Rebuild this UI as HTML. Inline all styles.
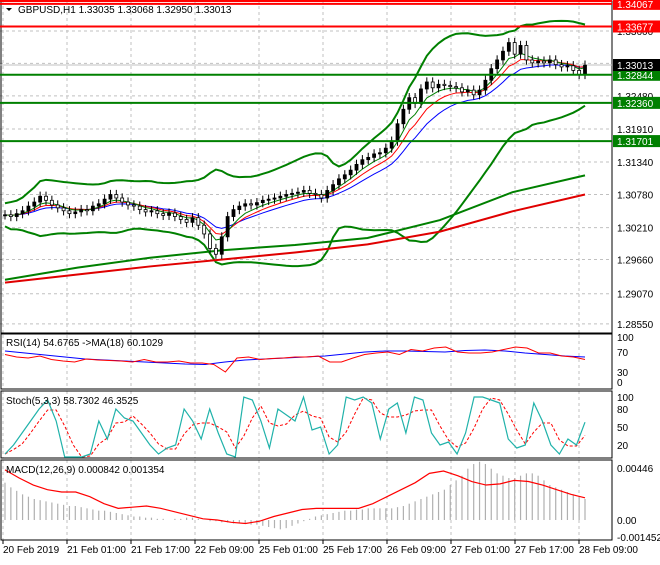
<!DOCTYPE html>
<html><head><meta charset="utf-8"><style>
body{margin:0;background:#fff;font-family:"Liberation Sans",sans-serif;}
svg text{font-family:"Liberation Sans",sans-serif;font-size:10px;fill:#000;}
</style></head><body>
<svg id="c" width="660" height="560" xmlns="http://www.w3.org/2000/svg"></svg>
<script>
const closes=[1.3043,1.3040,1.3045,1.3050,1.3058,1.3065,1.3075,1.3068,1.3060,1.3055,
1.3050,1.3045,1.3048,1.3052,1.3050,1.3058,1.3062,1.3070,1.3078,1.3072,
1.3065,1.3060,1.3058,1.3052,1.3048,1.3050,1.3045,1.3042,1.3046,1.3040,
1.3035,1.3030,1.3038,1.3025,1.3010,1.2985,1.2975,1.3005,1.3040,1.3052,
1.3058,1.3062,1.3060,1.3064,1.3068,1.3070,1.3072,1.3075,1.3078,1.3080,
1.3082,1.3085,1.3080,1.3078,1.3072,1.3085,1.3095,1.3105,1.3112,1.3120,
1.3130,1.3138,1.3142,1.3148,1.3150,1.3158,1.3170,1.3200,1.3225,1.3245,
1.3235,1.3260,1.3272,1.3262,1.3268,1.3266,1.3264,1.3262,1.3255,1.3258,
1.3250,1.3258,1.3275,1.3295,1.3310,1.3325,1.3340,1.3320,1.3335,1.3310,
1.3305,1.3308,1.3305,1.3310,1.3302,1.3298,1.3300,1.3292,1.3285,1.3301];
const maSlowRed=[1.2926,1.2940,1.2954,1.2966,1.2978,1.2992,1.3014,1.3049,1.3078];
const maSlowGreen=[1.2931,1.2952,1.2969,1.2982,1.2991,1.3003,1.3034,1.3082,1.3111];
const priceTicks=[1.33600,1.33040,1.32480,1.31910,1.31340,1.30780,1.30210,1.29660,1.29070,1.28550];
const levels=[1.34067,1.33677,1.32844,1.32360,1.31701];
const levelColors=["#f00","#f00","#008000","#008000","#008000"];
const rsi=[65,60,58,62,55,52,50,56,54,53,52,50,55,50,50,52,48,48,45,30,58,60,55,57,58,60,60,62,50,50,58,65,68,70,65,75,72,78,80,70,68,68,70,75,80,78,68,68,62,60,55];
const rsiMa=[72,68,64,60,56,54,52,50,48,46,45,50,54,56,58,60,62,66,70,72,72,71,70,73,74,72,68,65,62,60];
const stoch=[5,20,40,60,80,95,60,0,0,0,5,60,30,80,65,60,40,20,5,15,20,80,60,30,80,40,5,0,100,95,60,15,80,70,60,100,45,50,5,20,100,95,100,90,30,80,90,40,100,95,40,20,25,5,40,100,100,95,90,30,15,20,90,60,20,5,30,20,58];
const macdHist=[32,28,25,22,20,18,17,16,15,14,13,12,12,11,10,9,8,8,7,6,5,4,3,3,2,2,1,1,0,1,1,2,2,1,0,-1,-1,-2,-2,-3,-3,-3,-4,-4,-5,-6,-7,-8,-7,-5,-3,-1,1,3,4,5,6,7,8,8,9,9,10,10,10,10,10,11,12,14,16,18,20,22,24,26,30,34,38,44,48,50,48,44,40,38,36,36,38,40,40,38,34,30,28,26,24,22,20,18];
const macdSig=[43,36,30,26,24,24,20,14,10,11,12,10,7,4,1,0,-2,-3,-1,3,6,9,10,10,10,10,14,20,26,32,40,42,38,33,30,31,34,33,30,26,22,19];
const timeLabels=["20 Feb 2019","21 Feb 01:00","21 Feb 17:00","22 Feb 09:00","25 Feb 01:00","25 Feb 17:00","26 Feb 09:00","27 Feb 01:00","27 Feb 17:00","28 Feb 09:00"];

const S=document.getElementById('c'),NS="http://www.w3.org/2000/svg";
function el(t,a,p){const e=document.createElementNS(NS,t);for(const k in a)e.setAttribute(k,a[k]);(p||S).appendChild(e);return e;}
const X0=5,X1=585,R=612;
const py=p=>65+(1.33013-p)*5800;
const xi=(i,n)=>X0+i*(X1-X0)/(n-1);
const line=(arr,yf,st,w,dash,name)=>{const e=el('polyline',{points:arr.map((v,i)=>xi(i,arr.length)+','+yf(v)).join(' '),fill:'none',stroke:st,'stroke-width':w||1,'stroke-dasharray':dash||''});
return e;};
const gx=[3,67,131,195,259,323,387,451,515,579];
gx.forEach(x=>{[[0,333],[335,389],[391,458],[460,540]].forEach(r=>el('line',{x1:x,x2:x,y1:r[0],y2:r[1],stroke:'#c0c0c0','stroke-dasharray':'3,3'}));});
priceTicks.forEach(p=>{const y=py(p);el('line',{x1:0,x2:R,y1:y,y2:y,stroke:'#c0c0c0','stroke-dasharray':'3,3'});
const t=el('text',{x:617,y:y+4});t.textContent=p.toFixed(5);});
[[1,1,611,332],[1,334,611,55],[1,391,611,67],[1,460,611,80]].forEach(r=>el('rect',{x:r[0],y:r[1],width:r[2],height:r[3],fill:'none',stroke:'#000'}));
el('line',{x1:0,x2:R,y1:py(1.33013),y2:py(1.33013),stroke:'#c0c0c0'});
const n=20,up=[],lo=[];
closes.forEach((c,i)=>{const s=closes.slice(Math.max(0,i-n+1),i+1);const m=s.reduce((a,b)=>a+b)/s.length;const sd=Math.sqrt(s.reduce((a,b)=>a+(b-m)*(b-m),0)/s.length);up.push(m+2.3*sd+0.0020);lo.push(m-2.3*sd-0.0020);});
line(up,py,'#008000',2,'','bollinger-upper');line(lo,py,'#008000',2,'','bollinger-lower');
line(maSlowGreen,py,'#008000',2,'','ma-slow-green');line(maSlowRed,py,'#e00000',2,'','ma-slow-red');
function ema(k){const a=[];let v=closes[0];closes.forEach(c=>{v=v+(c-v)*2/(k+1);a.push(v);});return a;}
line(ema(13),py,'#00f',1,'','ema-blue');line(ema(8),py,'#f00',1,'','ema-red');line(ema(5),py,'#008000',1,'','ema-green');
closes.forEach((c,i)=>{const o=i?closes[i-1]:c;const x=xi(i,closes.length);const hi=Math.max(o,c)+0.0008,lw=Math.min(o,c)-0.0008;
el('line',{x1:x,x2:x,y1:py(hi),y2:py(lw),stroke:'#000'});
const r=el('rect',{x:x-1.5,y:py(Math.max(o,c)),width:3,height:Math.max(1,Math.abs(py(o)-py(c))),fill:c>=o?'#000':'#fff',stroke:'#000','stroke-width':0.8});
});
levels.forEach((p,i)=>{const y=py(p);const l=el('line',{x1:0,x2:R,y1:y,y2:y,stroke:levelColors[i],'stroke-width':2});

el('rect',{x:613,y:y-6,width:47,height:12,fill:levelColors[i]});
const t=el('text',{x:617,y:y+4,style:'fill:#fff'});t.textContent=p.toFixed(5);});
el('rect',{x:613,y:py(1.33013)-6,width:47,height:12,fill:'#000'});
let t=el('text',{x:617,y:py(1.33013)+4,style:'fill:#fff'});t.textContent='1.33013';
el('rect',{x:0,y:0,width:612,height:2,fill:'#f00'});
t=el('text',{x:18,y:13});t.textContent='GBPUSD,H1  1.33035 1.33068 1.32950 1.33013';
el('path',{d:'M6 8 L12 8 L9 11 Z',fill:'#000'});
const ry=v=>387-0.5*v;
line(rsiMa,ry,'#00f',1,'','rsi-ma');line(rsi,ry,'#f00',1,'','rsi-line');
t=el('text',{x:6,y:346});t.textContent='RSI(14) 54.6765  ->MA(18) 60.1029';
[[100,'100'],[70,'70'],[30,'30'],[0,'0']].forEach(a=>{const tt=el('text',{x:617,y:ry(a[0])+4-(a[0]==0?5:0)});tt.textContent=a[1];});
const sy=v=>457-0.6*v;
const sig=stoch.map((v,i)=>{const s=stoch.slice(Math.max(0,i-2),i+1);return s.reduce((a,b)=>a+b)/s.length;});
line(sig,sy,'#f00',1,'3,2','stoch-signal');line(stoch,sy,'#20b2aa',1.2,'','stoch-main');
t=el('text',{x:6,y:404});t.textContent='Stoch(5,3,3) 58.7302 46.3525';
[[100,'100'],[80,'80'],[50,'50'],[20,'20']].forEach(a=>{const tt=el('text',{x:617,y:sy(a[0])+4});tt.textContent=a[1];});
const my=v=>520-v*1e-4*11660;
macdHist.forEach((v,i)=>{const x=xi(i,macdHist.length);const b=el('line',{x1:x,x2:x,y1:my(0),y2:my(v),stroke:'#b0b0b0','stroke-width':1.2});
});
line(macdSig,my,'#f00',1.2,'','macd-signal');
t=el('text',{x:6,y:473});t.textContent='MACD(12,26,9) 0.000842 0.001354';
[[44.6,'0.00446'],[0,'0.00'],[-14.52,'-0.001452']].forEach(a=>{const tt=el('text',{x:617,y:my(a[0])+4});tt.textContent=a[1];});
timeLabels.forEach((l,i)=>{el('line',{x1:gx[i],x2:gx[i],y1:540,y2:544,stroke:'#000'});const tt=el('text',{x:gx[i],y:553});tt.textContent=l;
});
</script>
</body></html>
